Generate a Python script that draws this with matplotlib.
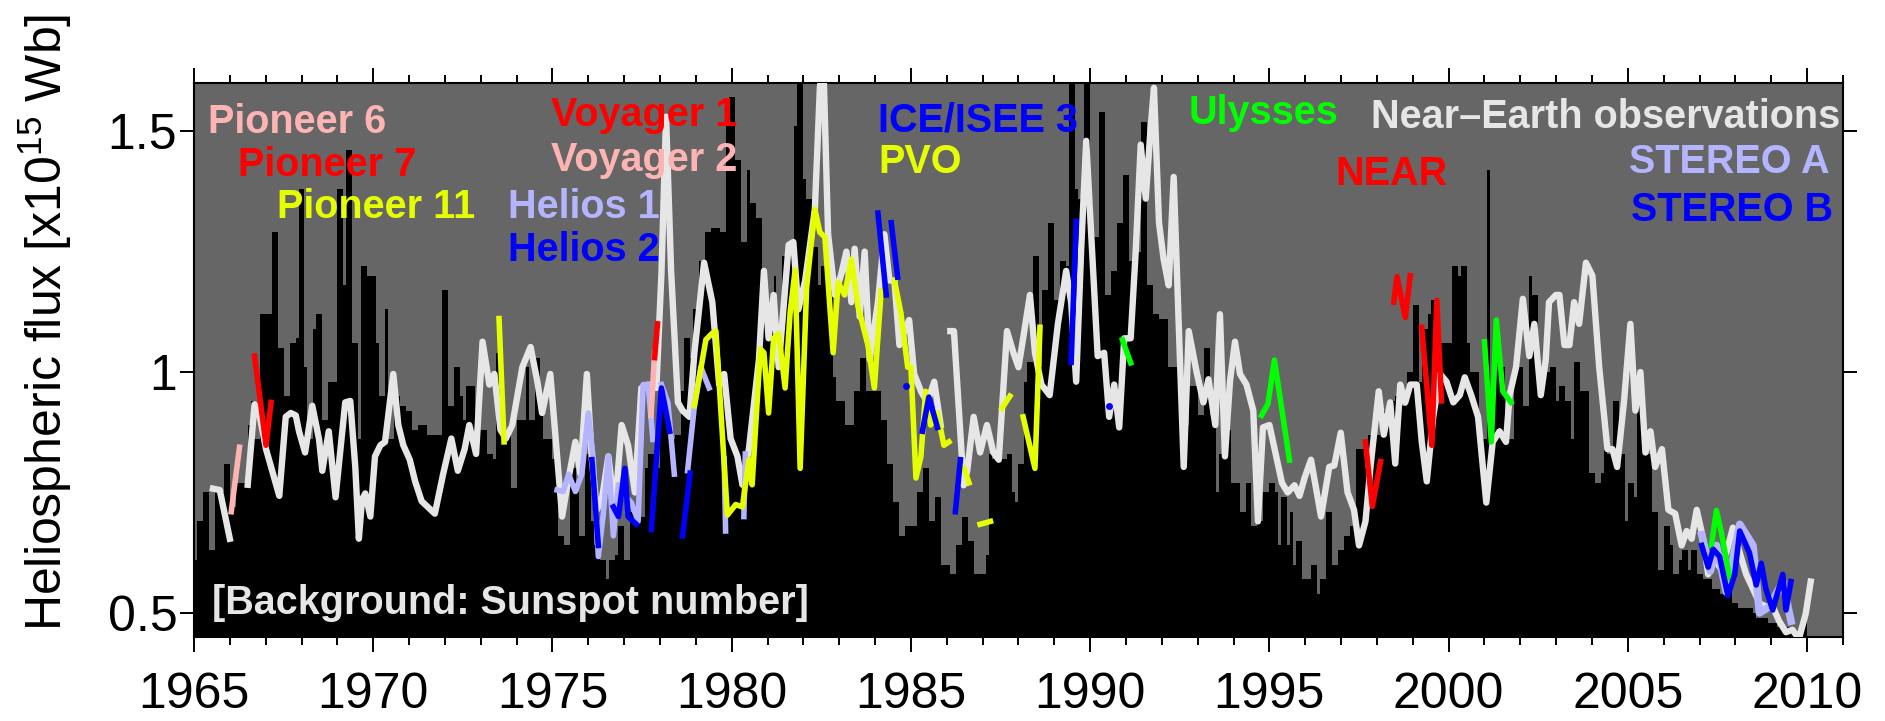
import numpy as np
import matplotlib
matplotlib.use('Agg')
import matplotlib.pyplot as plt
from matplotlib.ticker import MultipleLocator

nan = np.nan

# monthly sunspot background (rows = years 1965..2009), drawn on the flux scale
ssn_years = np.arange(1965, 2010)
ssn_bg = [
    [0.61, 0.69, 0.69, 0.75, 0.75, 0.63, 0.63, 0.75, 0.75, 0.75, 0.81, 0.81],
    [0.72, 0.72, 0.77, 0.77, 0.77, 0.77, 0.89, 0.94, 0.86, 0.86, 1.12, 1.12],
    [1.12, 1.12, 1.29, 1.29, 1.05, 1.05, 0.95, 0.95, 1.06, 1.06, 1.07, 1.38],
    [1.38, 1.01, 0.86, 0.86, 1.09, 1.12, 1.12, 0.90, 0.90, 0.98, 0.98, 0.98],
    [1.38, 1.38, 1.18, 1.46, 1.46, 1.06, 1.06, 0.86, 1.22, 1.22, 1.20, 1.20],
    [1.20, 1.06, 0.95, 0.95, 1.13, 0.86, 0.86, 0.95, 0.95, 0.93, 0.93, 0.92],
    [0.92, 0.88, 0.88, 0.89, 0.89, 0.89, 0.87, 0.87, 0.87, 0.87, 0.87, 1.17],
    [1.17, 0.93, 0.93, 1.01, 1.01, 0.95, 0.90, 0.97, 0.97, 0.97, 0.88, 0.88],
    [0.88, 0.88, 0.83, 0.83, 0.82, 1.04, 1.04, 0.86, 0.86, 0.89, 0.76, 0.76],
    [0.90, 0.90, 0.90, 1.01, 0.90, 0.90, 1.03, 1.03, 0.93, 0.86, 0.86, 0.86],
    [0.82, 0.82, 0.66, 0.66, 0.64, 0.64, 0.80, 0.80, 0.75, 0.66, 0.66, 0.83],
    [0.83, 0.69, 0.64, 0.64, 0.61, 0.61, 0.57, 0.61, 0.61, 0.62, 0.68, 0.68],
    [0.61, 0.61, 0.71, 0.71, 0.71, 0.70, 0.70, 0.80, 0.83, 0.83, 0.80, 0.80],
    [0.94, 0.94, 0.95, 0.86, 0.86, 0.87, 0.87, 0.96, 1.07, 1.07, 1.03, 1.13],
    [1.13, 1.23, 1.23, 1.29, 1.29, 1.30, 1.30, 1.30, 1.29, 1.29, 1.51, 1.57],
    [1.57, 1.44, 1.44, 1.27, 1.27, 1.42, 1.35, 1.35, 1.32, 1.32, 1.18, 1.18],
    [1.09, 1.09, 1.20, 1.09, 1.09, 1.24, 1.24, 1.26, 1.26, 1.51, 1.65, 1.65],
    [1.40, 1.36, 1.36, 1.26, 1.26, 1.18, 1.22, 1.22, 1.19, 1.19, 0.99, 0.94],
    [0.94, 0.94, 0.89, 0.89, 0.89, 0.96, 0.96, 1.03, 1.03, 0.96, 0.96, 0.96],
    [0.96, 0.96, 0.90, 0.90, 0.81, 0.81, 0.73, 0.73, 0.66, 0.66, 0.68, 0.68],
    [0.68, 0.68, 0.75, 0.75, 0.80, 0.80, 0.69, 0.69, 0.74, 0.74, 0.60, 0.60],
    [0.60, 0.58, 0.58, 0.64, 0.64, 0.70, 0.70, 0.65, 0.65, 0.58, 0.58, 0.58],
    [0.58, 0.62, 0.83, 0.82, 0.82, 0.82, 0.82, 0.82, 0.83, 0.83, 0.75, 0.73],
    [0.81, 0.81, 0.98, 1.02, 1.02, 1.24, 1.24, 1.01, 1.17, 1.17, 1.31, 1.31],
    [1.15, 1.15, 1.23, 1.23, 1.22, 1.65, 1.65, 1.38, 1.36, 1.36, 1.65, 1.65],
    [1.35, 1.28, 1.28, 1.54, 1.54, 1.16, 1.16, 1.21, 1.21, 1.31, 1.31, 1.41],
    [1.41, 1.23, 1.23, 1.25, 1.25, 1.52, 1.52, 1.18, 1.18, 1.12, 1.12, 1.11],
    [1.11, 1.11, 1.01, 1.01, 1.01, 1.01, 0.91, 0.89, 0.89, 0.97, 0.97, 0.97],
    [0.91, 0.91, 1.05, 1.05, 0.91, 0.91, 0.75, 0.83, 0.83, 0.88, 0.88, 0.77],
    [0.77, 0.77, 0.71, 0.71, 0.77, 0.77, 0.68, 0.68, 0.69, 0.69, 0.75, 0.75],
    [0.77, 0.77, 0.75, 0.64, 0.74, 0.74, 0.64, 0.71, 0.60, 0.65, 0.65, 0.57],
    [0.57, 0.57, 0.60, 0.60, 0.54, 0.57, 0.57, 0.71, 0.71, 0.60, 0.60, 0.63],
    [0.63, 0.66, 0.66, 0.68, 0.68, 0.84, 0.84, 0.84, 0.80, 0.87, 0.87, 0.87],
    [0.87, 0.92, 0.92, 0.90, 0.90, 0.94, 0.95, 0.95, 0.93, 0.93, 1.00, 1.00],
    [1.14, 1.14, 0.98, 1.09, 1.09, 1.12, 1.15, 1.15, 1.09, 1.06, 1.06, 1.06],
    [1.06, 1.22, 1.22, 1.20, 1.22, 1.22, 1.06, 1.00, 1.00, 1.00, 0.86, 0.86],
    [0.86, 1.42, 0.96, 0.96, 1.03, 1.01, 1.01, 0.87, 0.86, 0.86, 1.02, 1.01],
    [1.01, 0.93, 0.93, 1.20, 1.16, 1.16, 1.00, 1.00, 1.00, 1.00, 1.01, 1.01],
    [0.94, 0.97, 0.97, 0.94, 0.94, 0.86, 1.02, 1.02, 0.96, 0.96, 0.96, 0.79],
    [0.79, 0.77, 0.77, 0.79, 0.90, 0.83, 0.83, 0.94, 0.94, 0.83, 0.83, 0.69],
    [0.77, 0.77, 0.74, 0.97, 0.97, 0.89, 0.83, 0.83, 0.71, 0.71, 0.59, 0.59],
    [0.68, 0.68, 0.64, 0.58, 0.58, 0.61, 0.63, 0.63, 0.59, 0.63, 0.63, 0.58],
    [0.58, 0.57, 0.57, 0.57, 0.55, 0.55, 0.55, 0.54, 0.54, 0.55, 0.55, 0.52],
    [0.52, 0.51, 0.51, 0.51, 0.51, 0.51, 0.50, 0.49, 0.49, 0.49, 0.49, 0.48],
    [0.48, 0.48, 0.47, 0.47, 0.47, 0.47, 0.47, 0.46, 0.46, 0.46, 0.47, 0.49],
]

# near-Earth observations (nan = data gap)
earth_t = [1965.53, 1965.72, 1966.00, 1966.25, 1966.50, 1966.69, 1966.83, 1967.01, 1967.38, 1967.56,
           1967.70, 1967.84, 1967.93, 1968.10, 1968.30, 1968.49, 1968.58, 1968.76, 1968.95, 1969.22,
           1969.36, 1969.50, 1969.60, 1969.69, 1969.78, 1969.92, 1970.05, 1970.20, 1970.33, 1970.56,
           1970.70, 1970.84, 1971.02, 1971.17, 1971.35, 1971.72, 1971.95, 1972.18, 1972.36, 1972.55,
           1972.68, 1972.87, 1973.05, 1973.24, 1973.38, 1973.55, 1973.70, 1973.88, 1974.16, 1974.39,
           1974.58, 1974.71, 1974.94, 1975.08, 1975.27, 1975.45, 1975.64, 1975.78, 1975.96, 1976.10,
           1976.24, 1976.38, 1976.56, 1976.74, 1976.93, 1977.11, 1977.30, 1977.48, 1977.67, 1977.90,
           1978.04, 1978.17, 1978.31, 1978.50, 1978.63, 1978.82, 1978.96, 1979.23, 1979.46, 1979.65,
           1979.79, 1979.97, 1980.16, 1980.30, 1980.48, 1980.76, 1980.90, 1981.03, 1981.17, 1981.31,
           1981.59, 1981.72, 1981.86, 1982.05, 1982.32, 1982.46, 1982.55, 1982.69, 1982.88, 1983.06,
           1983.20, 1983.34, 1983.43, 1983.57, 1983.71, 1983.85, 1984.08, 1984.26, 1984.40, 1984.54,
           1984.68, 1984.82, 1984.95, 1985.09, 1985.28, 1985.46, 1985.65, 1985.83, 1985.95, 1986.10,
           1986.20, 1986.47, 1986.57, 1986.75, 1986.93, 1987.12, 1987.30, 1987.45, 1987.68, 1987.86,
           1988.00, 1988.13, 1988.32, 1988.46, 1988.64, 1988.87, 1989.10, 1989.33, 1989.47, 1989.61,
           1989.75, 1989.89, 1990.03, 1990.21, 1990.39, 1990.53, 1990.67, 1990.81, 1990.95, 1991.13,
           1991.27, 1991.41, 1991.55, 1991.69, 1991.78, 1991.92, 1992.05, 1992.19, 1992.33, 1992.47,
           1992.61, 1992.75, 1992.98, 1993.16, 1993.30, 1993.49, 1993.62, 1993.76, 1993.90, 1994.04,
           1994.18, 1994.36, 1994.55, 1994.68, 1994.82, 1995.00, 1995.19, 1995.35, 1995.51, 1995.70,
           1995.84, 1995.98, 1996.16, 1996.44, 1996.67, 1996.81, 1996.99, 1997.18, 1997.36, 1997.50,
           1997.68, 1997.82, 1998.05, 1998.19, 1998.37, 1998.51, 1998.65, 1998.79, 1998.93, 1999.11,
           1999.25, 1999.39, 1999.57, 1999.76, 1999.94, 2000.13, 2000.31, 2000.45, 2000.63, 2000.82,
           2001.05, 2001.23, 2001.42, 2001.60, 2001.70, 2001.88, 2002.07, 2002.25, 2002.39, 2002.57,
           2002.71, 2002.80, 2002.99, 2003.09, 2003.23, 2003.37, 2003.50, 2003.64, 2003.83, 2004.01,
           2004.20, 2004.43, 2004.57, 2004.70, 2004.89, 2005.07, 2005.21, 2005.35, 2005.49, 2005.63,
           2005.76, 2005.95, 2006.13, 2006.32, 2006.50, 2006.64, 2006.78, 2006.92, 2007.10, 2007.24,
           2007.38, 2007.56, 2007.75, 2007.93, 2008.12, 2008.30, 2008.49, 2008.67, 2008.85, 2009.04,
           2009.22, 2009.41, 2009.59, 2009.77, 2009.96, 2010.10]
earth_f = [0.758, 0.755, 0.654, nan, 0.766, 0.933, 0.910, 0.840, 0.743, 0.907,
           0.915, 0.910, 0.877, 0.833, 0.930, 0.860, 0.795, 0.877, 0.740, 0.937,
           0.940, 0.803, 0.654, 0.736, 0.748, 0.700, 0.825, 0.848, 0.855, 0.996,
           0.890, 0.848, 0.818, 0.773, 0.732, 0.706, 0.788, 0.862, 0.795, 0.840,
           0.890, 0.830, 1.063, 0.974, 0.996, 0.880, 0.862, 0.890, 1.010, 1.052,
           0.980, 0.915, 0.996, 0.870, 0.700, 0.780, 0.855, 0.788, 0.996, 0.818,
           0.714, 0.736, 0.825, 0.714, 0.890, 0.848, 0.750, 0.967, 0.974, 0.967,
           1.204, 1.530, 1.210, 0.937, 0.920, 0.907, 1.040, 1.227, 1.145, 0.974,
           0.996, 0.862, 0.825, 0.766, 0.840, 1.026, 1.210, 1.070, 1.160, 1.010,
           1.264, 1.270, 1.130, 1.190, 1.338, 1.590, 1.660, 1.286, 1.160, 1.204,
           1.250, 1.145, 1.256, 1.115, 1.250, 1.026, 1.145, 1.286, 1.190, 1.190,
           1.056, 1.085, 1.108, 0.996, 0.960, 0.937, 0.980, 0.890, nan, 1.085,
           1.085, 0.765, 0.795, 0.907, 0.833, 0.890, 0.833, 0.818, 1.085, 1.040,
           1.010, 1.070, 1.160, 1.040, 0.974, 0.952, 1.100, 1.210, 1.145, 0.980,
           1.256, 1.480, 1.286, 1.033, 1.040, 0.907, 0.974, 0.885, 1.070, 1.070,
           1.250, 1.472, 1.360, 1.510, 1.590, 1.310, 1.234, 1.180, 1.405, 1.100,
           0.803, 1.085, 0.996, 0.937, 0.985, 0.890, 1.120, 0.825, 0.980, 1.063,
           0.996, 0.974, 0.920, 0.690, 0.885, 0.890, 0.825, 0.770, 0.750, 0.765,
           0.743, 0.780, 0.818, 0.700, 0.803, 0.806, 0.874, 0.750, 0.714, 0.640,
           0.690, 0.803, 0.960, 0.870, 0.937, 0.810, 0.974, 0.937, 0.974, 0.974,
           0.855, 0.773, 0.907, 0.996, 0.980, 0.937, 0.952, 0.989, 0.952, 0.907,
           0.729, 0.855, 0.877, 0.855, 0.952, 1.010, 1.152, 1.033, 1.100, 0.952,
           1.026, 1.145, 1.160, 1.160, 1.056, 1.056, 1.145, 1.100, 1.227, 1.200,
           1.010, 0.840, 0.840, 0.803, 0.937, 1.100, 0.920, 1.000, 0.833, 0.877,
           0.803, 0.840, 0.714, 0.706, 0.640, 0.670, 0.654, 0.714, 0.654, 0.580,
           0.617, 0.595, 0.625, 0.677, 0.625, 0.580, 0.550, 0.520, 0.513, 0.513,
           0.483, 0.460, 0.465, 0.446, 0.498, 0.565]

# spacecraft (nan = gap between passes)
pioneer6_t = [1966.04, 1966.27]
pioneer6_f = [0.710, 0.844]
pioneer7_t = [1966.69, 1967.01, 1967.15]
pioneer7_f = [1.033, 0.848, 0.937]
pioneer11_t = [1973.51, 1973.65]
pioneer11_f = [1.111, 0.855]
voyager2_t = [1977.75, 1977.85]
voyager2_f = [0.910, 1.040]
voyager1_t = [1977.85, 1977.93]
voyager1_f = [1.030, 1.100]
helios1_t = [1975.13, 1975.30, 1975.45, 1975.64, 1975.82, 1976.00, 1976.14, 1976.28, 1976.42, 1976.56,
             1976.70, 1976.84, 1977.02, 1977.20, 1977.39, 1977.53, 1977.67, 1977.80, 1977.90, 1978.04,
             1978.22, 1978.40, 1978.60, 1978.77, 1978.96, 1979.14, 1979.37, 1979.60, 1979.79, 1979.83,
             1980.10, 1980.34, 1980.38]
helios1_f = [0.755, 0.752, 0.788, 0.752, 0.788, 0.915, 0.818, 0.617, 0.706, 0.825,
             0.660, 0.766, 0.743, 0.729, 0.690, 0.974, 0.974, 0.860, nan, 0.974,
             0.937, 0.788, nan, 0.795, 0.930, 1.010, 0.967, nan, 0.820, 0.670,
             nan, 0.700, 0.830]
helios2_t = [1976.10, 1976.28, 1976.50, 1976.70, 1976.84, 1977.02, 1977.11, 1977.34, 1977.55, 1977.76,
             1978.04, 1978.27, 1978.45, 1978.63, 1978.84]
helios2_f = [0.818, 0.640, nan, 0.720, 0.700, 0.800, 0.700, 0.684, nan, 0.673,
             0.967, 0.877, nan, 0.660, 0.790]
pvo_t = [1978.96, 1979.28, 1979.45, 1979.56, 1979.88, 1980.06, 1980.11, 1980.30, 1980.48, 1980.57,
         1980.80, 1980.90, 1981.03, 1981.17, 1981.31, 1981.49, 1981.63, 1981.77, 1981.91, 1982.09,
         1982.32, 1982.46, 1982.60, 1982.83, 1982.97, 1983.15, 1983.34, 1983.52, 1983.80, 1983.98,
         1984.17, 1984.35, 1984.54, 1984.72, 1984.91, 1985.00, 1985.14, 1985.28, 1985.41, 1985.55,
         1985.74, 1985.92, 1986.06, 1986.30, 1986.48, 1986.62, 1986.80, 1986.93, 1987.22, 1987.40,
         1987.54, 1987.76, 1987.95, 1988.13, 1988.46, 1988.60]
pvo_f = [0.930, 1.067, 1.080, 1.085, 0.703, 0.720, 0.725, 0.720, 0.818, 0.766,
         1.048, 1.040, 0.915, 1.070, 1.080, 0.967, 1.123, 1.212, 0.800, 1.175,
         1.338, 1.290, 1.280, 1.040, 1.186, 1.160, 1.234, 1.138, 1.056, 0.967,
         1.168, nan, 1.190, 1.123, 1.010, 1.010, 0.780, 0.825, 0.960, 0.890,
         0.915, 0.848, 0.855, nan, 0.800, 0.770, nan, 0.684, 0.690, nan,
         0.925, 0.950, nan, 0.907, 0.800, 1.093]
ice_t = [1984.08, 1984.31, 1984.38, 1984.45, 1984.63, 1985.00, 1985.32, 1985.50, 1985.74, 1986.00,
         1986.24, 1986.38, 1988.00, 1989.47, 1989.61]
ice_f = [1.330, 1.160, nan, 1.310, 1.197, nan, 0.877, 0.948, 0.885, nan,
         0.710, 0.818, nan, 1.020, 1.313]
ice_dot_t = [1984.86, 1990.53]
ice_dot_f = [0.970, 0.930]
ulysses_t = [1990.90, 1991.13, 1993.00, 1994.78, 1994.96, 1995.14, 1995.56, 1998.00, 2001.00, 2001.19,
             2001.33, 2001.51, 2001.74, 2004.00, 2007.33, 2007.47, 2007.60, 2007.84]
ulysses_f = [1.067, 1.019, nan, 0.910, 0.934, 1.025, 0.817, nan, 1.063, 0.855,
             1.108, 0.960, 0.937, nan, 0.640, 0.713, 0.670, 0.573]
near_t = [1997.68, 1997.87, 1998.10, 1998.30, 1998.47, 1998.56, 1998.79, 1998.93, 1999.10, 1999.25,
          1999.53, 1999.67, 1999.80]
near_f = [0.855, 0.721, 0.814, nan, 1.145, 1.198, 1.113, 1.200, nan, 1.093,
          0.848, 1.149, 0.940]
stereo_a_t = [2007.06, 2007.30, 2007.47, 2007.75, 2008.12, 2008.49, 2008.67, 2008.95, 2009.32, 2009.55]
stereo_a_f = [0.662, 0.587, 0.640, 0.543, 0.684, 0.640, 0.500, 0.513, 0.565, 0.483]
stereo_b_t = [2007.06, 2007.24, 2007.38, 2007.56, 2007.79, 2007.98, 2008.12, 2008.39, 2008.58, 2008.72,
              2008.85, 2009.04, 2009.32, 2009.41, 2009.55]
stereo_b_f = [0.640, 0.595, 0.632, 0.617, 0.536, 0.580, 0.670, 0.625, 0.558, 0.603,
              0.550, 0.506, 0.580, 0.506, 0.565]

PINK = '#ffb4b4'
RED = '#ff0000'
YELLOW = '#e6ff00'
LAVENDER = '#b4b4ff'
BLUE = '#0000ff'
GREEN = '#00ff00'
LIGHT = '#e6e6e6'

plt.rcParams['font.family'] = ['Liberation Sans', 'DejaVu Sans']
plt.rcParams['mathtext.fontset'] = 'custom'
plt.rcParams['mathtext.rm'] = 'Liberation Sans'
plt.rcParams['mathtext.it'] = 'Liberation Sans'

fig = plt.figure(figsize=(18.85, 7.21), dpi=100)
ax = fig.add_axes([0.1029, 0.1165, 0.8748, 0.7684])
ax.set_facecolor('#666666')

ymin, ymax = 0.45, 1.6

# sunspot background bars, one per month
bg = np.array(ssn_bg)
months = (ssn_years[:, None] + (np.arange(12)[None, :] + 0.5) / 12.0).ravel()
ax.bar(months, bg.ravel() - ymin, bottom=ymin, width=1.0 / 12, color='black',
       linewidth=0, zorder=1)

lw = 4.0
ax.plot(earth_t, earth_f, color=LIGHT, lw=4.6, zorder=3)
ax.plot(pioneer6_t, pioneer6_f, color=PINK, lw=lw, zorder=4)
ax.plot(pioneer7_t, pioneer7_f, color=RED, lw=lw, zorder=4)
ax.plot(pioneer11_t, pioneer11_f, color=YELLOW, lw=lw, zorder=4)
ax.plot(helios1_t, helios1_f, color=LAVENDER, lw=lw, zorder=4)
ax.plot(helios2_t, helios2_f, color=BLUE, lw=lw, zorder=5)
ax.plot(voyager2_t, voyager2_f, color=PINK, lw=lw, zorder=5)
ax.plot(voyager1_t, voyager1_f, color=RED, lw=lw, zorder=5)
ax.plot(pvo_t, pvo_f, color=YELLOW, lw=lw, zorder=5)
ax.plot(ice_t, ice_f, color=BLUE, lw=lw, zorder=6)
ax.plot(ice_dot_t, ice_dot_f, 'o', color=BLUE, ms=5, mew=0, zorder=6)
ax.plot(ulysses_t, ulysses_f, color=GREEN, lw=lw, zorder=5)
ax.plot(near_t, near_f, color=RED, lw=lw, zorder=5)
ax.plot(stereo_a_t, stereo_a_f, color=LAVENDER, lw=lw + 1.5, zorder=4)
ax.plot(stereo_b_t, stereo_b_f, color=BLUE, lw=lw, zorder=6)

# spacecraft names
lab = dict(fontsize=28.5, fontweight='bold', va='baseline', zorder=8)
ax.text(1965.39, 1.496, 'Pioneer 6', color=PINK, **lab)
ax.text(1966.22, 1.407, 'Pioneer 7', color=RED, **lab)
ax.text(1967.33, 1.320, 'Pioneer 11', color=YELLOW, **lab)
ax.text(1974.95, 1.510, 'Voyager 1', color=RED, **lab)
ax.text(1974.95, 1.417, 'Voyager 2', color=PINK, **lab)
ax.text(1973.75, 1.320, 'Helios 1', color=LAVENDER, **lab)
ax.text(1973.75, 1.230, 'Helios 2', color=BLUE, **lab)
ax.text(1984.08, 1.500, 'ICE/ISEE 3', color=BLUE, **lab)
ax.text(1984.08, 1.413, 'PVO', color=YELLOW, **lab)
ax.text(1992.75, 1.515, 'Ulysses', color=GREEN, **lab)
ax.text(1996.85, 1.388, 'NEAR', color=RED, **lab)
ax.text(2010.92, 1.506, 'Near\u2013Earth observations', color=LIGHT, ha='right', **lab)
ax.text(2010.64, 1.413, 'STEREO A', color=LAVENDER, ha='right', **lab)
ax.text(2010.72, 1.313, 'STEREO B', color=BLUE, ha='right', **lab)
ax.text(1965.50, 0.498, '[Background: Sunspot number]', color=LIGHT, **lab)

ax.set_xlim(1965, 2011)
ax.set_ylim(ymin, ymax)
ax.xaxis.set_major_locator(MultipleLocator(5))
ax.xaxis.set_minor_locator(MultipleLocator(1))
ax.set_yticks([0.5, 1.0, 1.5])
ax.set_yticklabels(['0.5', '1', '1.5'])
ax.tick_params(axis='both', which='both', direction='out', top=True, right=True,
               width=1.4, labelsize=36)
ax.tick_params(axis='x', which='major', length=11, pad=14)
ax.tick_params(axis='x', which='minor', length=6)
ax.tick_params(axis='y', which='major', length=10, pad=2)
for sp in ax.spines.values():
    sp.set_linewidth(1.5)

ax.set_ylabel('Heliospheric flux [x10$^{15}$ Wb]', fontsize=36)
ax.yaxis.set_label_coords(-0.073, 0.568)

fig.savefig('out.png', dpi=100)
